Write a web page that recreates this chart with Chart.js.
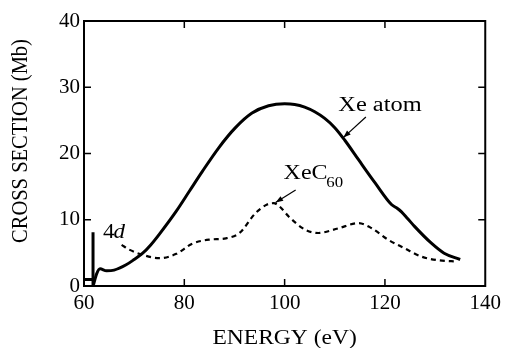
<!DOCTYPE html>
<html>
<head>
<meta charset="utf-8">
<title>Xe cross section</title>
<script src="https://cdn.jsdelivr.net/npm/chart.js"></script>
<style>
  html, body { margin: 0; padding: 0; background: #fff; }
  canvas { display: block; }
</style>
</head>
<body>
<canvas id="myChart" width="506" height="348"></canvas>
<script>
// tick labels
const xTicks = [60, 80, 100, 120, 140]
const yTicks = [0, 10, 20, 30, 40]

// Xe atom: threshold edge (box + 4d spike)
const edgeEnergy = [60, 61.8, 61.8, 61.8]
const edgeCross = [1, 1, 8.1, 0]

// Xe atom, solid curve (eV, Mb)
const xeEnergy = [61.9, 62.5, 63.2, 64.5, 66, 68.4, 70, 71.7, 73.3, 75, 78.4, 81, 83.6, 86.9, 90.2, 93.5, 96.8, 100, 102, 104, 106, 108, 110, 112, 114.7, 118, 121.3, 122.5, 123.3, 124.5, 125.9, 129.2, 131.8, 135]
const xeCross = [0.2, 1.8, 2.6, 2.3, 2.4, 3.2, 4.0, 4.95, 6.2, 7.8, 11.3, 14.3, 17.3, 20.9, 23.9, 26.1, 27.2, 27.5, 27.4, 27.0, 26.3, 25.3, 23.9, 22.0, 19.1, 15.6, 12.3, 11.7, 11.2, 10.2, 9.0, 6.5, 4.95, 4.0]

// XeC60, dashed curve
const c60Energy = [67.5, 69, 71.7, 75, 78.4, 81.6, 85, 88.3, 91, 94.2, 96.5, 97.8, 99, 100.8, 104.1, 106.7, 110.7, 114.7, 117.3, 120.6, 123.9, 127.2, 130.5, 134.5]
const c60Cross = [6.2, 5.5, 4.7, 4.2, 4.85, 6.4, 7.0, 7.2, 8.0, 11.0, 12.3, 12.5, 12.0, 10.5, 8.5, 8.0, 8.7, 9.5, 8.75, 7.0, 5.7, 4.45, 3.9, 3.7]

const toXY = (xs, ys) => xs.map((x, i) => ({ x: x, y: ys[i] }))
const SERIF = "'Liberation Serif', 'Times New Roman', serif"

// stretched text, the scan is a little wider than tall
function wideText (ctx, txt, x, y, sx) {
  ctx.save()
  ctx.translate(x, y)
  ctx.scale(sx, 1)
  ctx.fillText(txt, 0, 0)
  ctx.restore()
}

function arrow (ctx, x1, y1, x2, y2) {
  const a = Math.atan2(y2 - y1, x2 - x1)
  ctx.beginPath()
  ctx.moveTo(x1, y1)
  ctx.lineTo(x2, y2)
  ctx.stroke()
  ctx.beginPath()
  ctx.moveTo(x2, y2)
  ctx.lineTo(x2 - 8 * Math.cos(a - 0.35), y2 - 8 * Math.sin(a - 0.35))
  ctx.lineTo(x2 - 8 * Math.cos(a + 0.35), y2 - 8 * Math.sin(a + 0.35))
  ctx.closePath()
  ctx.fill()
}

const decor = {
  id: 'decor',
  afterDraw (chart) {
    const ctx = chart.ctx
    const area = chart.chartArea
    const xs = chart.scales.x
    const ys = chart.scales.y
    ctx.save()
    ctx.strokeStyle = '#000'
    ctx.fillStyle = '#000'

    // frame
    ctx.lineWidth = 2
    ctx.strokeRect(area.left, area.top, area.right - area.left, area.bottom - area.top)

    // inward ticks on all four sides
    ctx.lineWidth = 1.5
    ctx.beginPath()
    xTicks.slice(1, -1).forEach(v => {
      const px = xs.getPixelForValue(v)
      ctx.moveTo(px, area.bottom); ctx.lineTo(px, area.bottom - 7)
      ctx.moveTo(px, area.top); ctx.lineTo(px, area.top + 7)
    })
    yTicks.slice(1, -1).forEach(v => {
      const py = ys.getPixelForValue(v)
      ctx.moveTo(area.left, py); ctx.lineTo(area.left + 7, py)
      ctx.moveTo(area.right, py); ctx.lineTo(area.right - 7, py)
    })
    ctx.stroke()

    // axis titles
    ctx.textBaseline = 'alphabetic'
    ctx.textAlign = 'center'
    ctx.font = '21px ' + SERIF
    wideText(ctx, 'ENERGY (eV)', (area.left + area.right) / 2, 344, 1.12)
    ctx.save()
    ctx.translate(27, 141)
    ctx.scale(1.08, 1)
    ctx.rotate(-Math.PI / 2)
    ctx.font = '20.5px ' + SERIF
    ctx.fillText('CROSS SECTION (Mb)', 0, 0)
    ctx.restore()

    // labels on the curves
    ctx.textAlign = 'left'
    ctx.font = '20px ' + SERIF
    wideText(ctx, 'Xe atom', xs.getPixelForValue(110.7), ys.getPixelForValue(26.4), 1.22)
    wideText(ctx, 'XeC', xs.getPixelForValue(99.8), ys.getPixelForValue(16.2), 1.2)
    ctx.font = '14px ' + SERIF
    wideText(ctx, '60', xs.getPixelForValue(108.3), ys.getPixelForValue(15.0), 1.2)
    ctx.font = '20px ' + SERIF
    wideText(ctx, '4', xs.getPixelForValue(63.8), ys.getPixelForValue(7.3), 1.15)
    ctx.font = 'italic 20px ' + SERIF
    wideText(ctx, 'd', xs.getPixelForValue(65.9), ys.getPixelForValue(7.3), 1.15)

    ctx.lineWidth = 1.2
    arrow(ctx, xs.getPixelForValue(116.2), ys.getPixelForValue(25.5), xs.getPixelForValue(111.7), ys.getPixelForValue(22.4))
    arrow(ctx, xs.getPixelForValue(102.2), ys.getPixelForValue(14.5), xs.getPixelForValue(98.2), ys.getPixelForValue(12.6))
    ctx.restore()
  }
}

new Chart(document.getElementById('myChart'), {
  type: 'scatter',
  data: {
    datasets: [
      {
        label: 'Xe edge',
        data: toXY(edgeEnergy, edgeCross),
        showLine: true,
        borderColor: '#000',
        borderWidth: 3,
        pointRadius: 0,
        tension: 0
      },
      {
        label: 'Xe atom',
        data: toXY(xeEnergy, xeCross),
        showLine: true,
        borderColor: '#000',
        borderWidth: 3,
        pointRadius: 0,
        cubicInterpolationMode: 'monotone'
      },
      {
        label: 'XeC60',
        data: toXY(c60Energy, c60Cross),
        showLine: true,
        borderColor: '#000',
        borderWidth: 2.2,
        borderDash: [5, 4],
        pointRadius: 0,
        cubicInterpolationMode: 'monotone'
      }
    ]
  },
  options: {
    responsive: false,
    animation: false,
    events: [],
    layout: { padding: { left: 0, top: 21, right: 19, bottom: 0 } },
    plugins: { legend: { display: false }, tooltip: { enabled: false } },
    scales: {
      x: {
        type: 'linear',
        min: 60,
        max: 140,
        afterFit: scale => { scale.height = 62 },
        afterBuildTicks: scale => { scale.ticks = xTicks.map(v => ({ value: v })) },
        grid: { display: false, drawTicks: false },
        border: { display: false },
        ticks: { color: '#000', padding: 5, maxRotation: 0, font: { family: SERIF, size: 21 } }
      },
      y: {
        type: 'linear',
        min: 0,
        max: 40,
        afterFit: scale => { scale.width = 84 },
        afterBuildTicks: scale => { scale.ticks = yTicks.map(v => ({ value: v })) },
        grid: { display: false, drawTicks: false },
        border: { display: false },
        ticks: { color: '#000', padding: 4, font: { family: SERIF, size: 21 } }
      }
    }
  },
  plugins: [decor]
})
</script>
</body>
</html>
